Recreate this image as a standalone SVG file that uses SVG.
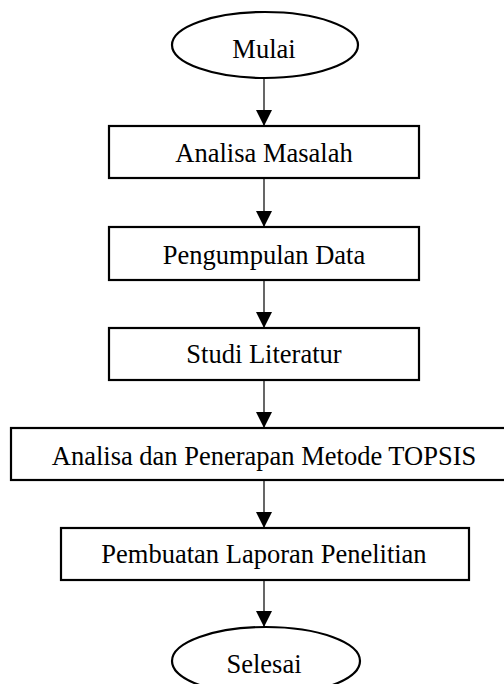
<svg xmlns="http://www.w3.org/2000/svg" width="504" height="684" viewBox="0 0 504 684">
<defs>
<style>
.shape{fill:#fff;stroke:#000;stroke-width:2.2}
.lbl{font-family:'Liberation Serif',serif;font-size:26.5px;fill:#000;text-anchor:middle}
.conn{stroke:#000;stroke-width:1.2;fill:none}
</style>
<marker id="arr" markerWidth="16" markerHeight="16" refX="16" refY="8" orient="auto" markerUnits="userSpaceOnUse">
<path d="M0,0 L16,8 L0,16 Z" fill="#000"/>
</marker>
</defs>
<rect width="504" height="684" fill="#fff"/>
<g id="connectors">
<line class="conn" x1="264" y1="78" x2="264" y2="126" marker-end="url(#arr)"/>
<line class="conn" x1="264" y1="178" x2="264" y2="227" marker-end="url(#arr)"/>
<line class="conn" x1="264" y1="280" x2="264" y2="328" marker-end="url(#arr)"/>
<line class="conn" x1="264" y1="380" x2="264" y2="428" marker-end="url(#arr)"/>
<line class="conn" x1="264" y1="480" x2="264" y2="528" marker-end="url(#arr)"/>
<line class="conn" x1="264" y1="580" x2="264" y2="627" marker-end="url(#arr)"/>
</g>
<g id="mulai">
<ellipse class="shape" cx="265" cy="45" rx="93" ry="33"/>
<text class="lbl" x="264" y="58" font-family="Liberation Serif">Mulai</text>
</g>
<g id="analisa-masalah">
<rect class="shape" x="109" y="126" width="310" height="52"/>
<text class="lbl" x="264" y="161.5" font-family="Liberation Serif">Analisa Masalah</text>
</g>
<g id="pengumpulan-data">
<rect class="shape" x="109" y="227" width="310" height="53"/>
<text class="lbl" x="264" y="264" font-family="Liberation Serif">Pengumpulan Data</text>
</g>
<g id="studi-literatur">
<rect class="shape" x="109" y="328" width="310" height="52"/>
<text class="lbl" x="264" y="363" font-family="Liberation Serif">Studi Literatur</text>
</g>
<g id="topsis">
<rect class="shape" x="11" y="428" width="506" height="52"/>
<text class="lbl" x="264" y="465" font-family="Liberation Serif">Analisa dan Penerapan Metode TOPSIS</text>
</g>
<g id="laporan">
<rect class="shape" x="61" y="528" width="408" height="52"/>
<text class="lbl" x="264" y="563" font-family="Liberation Serif">Pembuatan Laporan Penelitian</text>
</g>
<g id="selesai">
<ellipse class="shape" cx="266" cy="661" rx="94" ry="34"/>
<text class="lbl" x="264" y="673" font-family="Liberation Serif">Selesai</text>
</g>
</svg>
